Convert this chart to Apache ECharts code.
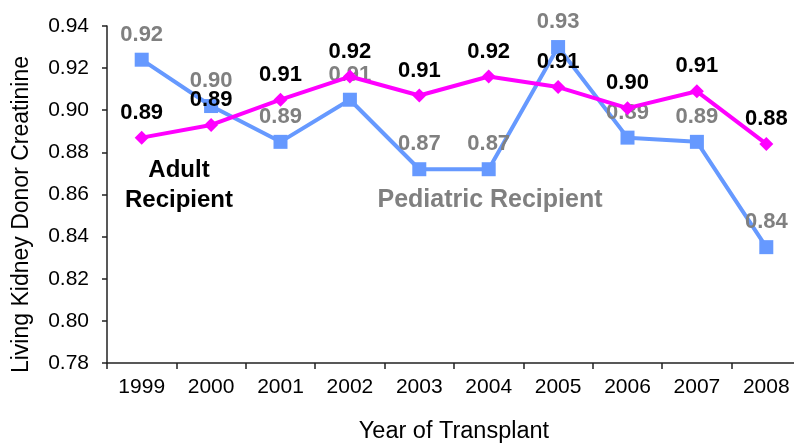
<!DOCTYPE html>
<html><head><meta charset="utf-8">
<script src="https://cdn.jsdelivr.net/npm/echarts@6/dist/echarts.min.js"></script>
<style>html,body{margin:0;padding:0;background:#fff}#c{width:794px;height:446px}</style>
</head><body><div id="c"></div>
<script>
const years = ['1999','2000','2001','2002','2003','2004','2005','2006','2007','2008'];
const pediatric = [0.924, 0.902, 0.885, 0.905, 0.872, 0.872, 0.930, 0.887, 0.885, 0.835];
const pediatricLabels = ['0.92','0.90','0.89','0.91','0.87','0.87','0.93','0.89','0.89','0.84'];
const adult = [0.887, 0.893, 0.905, 0.916, 0.907, 0.916, 0.911, 0.901, 0.909, 0.884];
const adultLabels = ['0.89','0.89','0.91','0.92','0.91','0.92','0.91','0.90','0.91','0.88'];
const yMin = 0.78, yMax = 0.94, yStep = 0.02;

const chart = echarts.init(document.getElementById('c'), null, {renderer:'canvas'});
const FONT = 'Liberation Sans, Arial, sans-serif';
chart.setOption({
  animation: false,
  textStyle: {fontFamily: FONT},
  grid: {left: 107, right: -7, top: 26, bottom: 83, containLabel: false, outerBoundsMode: 'none'},
  xAxis: {
    type: 'category', data: years, boundaryGap: true,
    name: 'Year of Transplant', nameLocation: 'middle', nameGap: 57,
    nameTextStyle: {fontSize: 23.5, color: '#000', fontFamily: FONT},
    axisLine: {lineStyle: {color: '#222', width: 1.5}},
    axisTick: {show: true, length: 6, lineStyle: {color: '#222', width: 1.5}},
    axisLabel: {fontSize: 21, color: '#000', margin: 14, fontFamily: FONT}
  },
  yAxis: {
    type: 'value', min: yMin, max: yMax, interval: yStep,
    name: 'Living Kidney Donor Creatinine', nameLocation: 'middle', nameGap: 74, nameRotate: 90,
    nameTextStyle: {fontSize: 23, color: '#000', fontFamily: FONT, padding: [0, 40, 0, 0]},
    axisLine: {show: true, lineStyle: {color: '#222', width: 1.5}},
    axisTick: {show: true, length: 5, lineStyle: {color: '#222', width: 1.5}},
    splitLine: {show: false},
    axisLabel: {fontSize: 21, color: '#000', margin: 18, fontFamily: FONT, formatter: v => v.toFixed(2)}
  },
  series: [
    {
      name: 'Pediatric Recipient', type: 'line', data: pediatric,
      symbol: 'rect', symbolSize: 14,
      lineStyle: {color: '#6699FF', width: 4},
      itemStyle: {color: '#6699FF'},
      label: {show: true, position: 'top', distance: 7, fontSize: 22, fontWeight: 'bold', color: '#808080',
        fontFamily: FONT, formatter: p => pediatricLabels[p.dataIndex]},
      z: 2
    },
    {
      name: 'Adult Recipient', type: 'line', data: adult,
      symbol: 'diamond', symbolSize: [14, 14],
      lineStyle: {color: '#FF00FF', width: 4},
      itemStyle: {color: '#FF00FF'},
      label: {show: true, position: 'top', distance: 7, fontSize: 22, fontWeight: 'bold', color: '#000',
        fontFamily: FONT, formatter: p => adultLabels[p.dataIndex]},
      z: 3
    }
  ],
  graphic: [
    {type: 'text', style: {text: 'Adult\nRecipient', x: 0, y: 0, fill: '#000',
      font: 'bold 24px ' + FONT, align: 'center', lineHeight: 30}, position: [179, 155], z: 10},
    {type: 'text', style: {text: 'Pediatric Recipient', x: 0, y: 0, fill: '#808080',
      font: 'bold 25px ' + FONT, align: 'center'}, position: [490, 188], z: 10}
  ]
});
</script></body></html>
